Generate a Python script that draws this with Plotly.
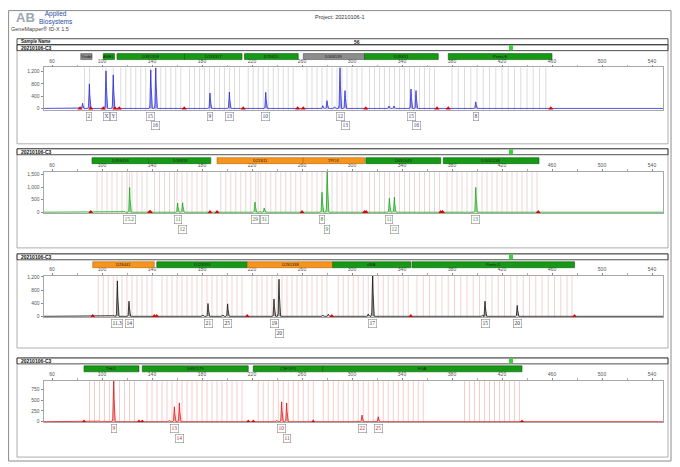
import plotly.graph_objects as go

W, H = 680, 467

project = "Project: 20210106-1"
software = "GeneMapper® ID-X 1.5"
sample = "20210106-C3"
sample_no = "56"

# y tick values (RFU) per dye panel
blue_rfu_ticks = [0, 400, 800, 1200]
green_rfu_ticks = [0, 500, 1000, 1500]
black_rfu_ticks = [0, 400, 800, 1200]
red_rfu_ticks = [0, 250, 500, 750]

# ---- blue dye ----
blue_locus = ["Yindel", "AMEL", "D3S1358", "D13S317", "D7S820", "D16S539", "D18S51", "Penta E"]
blue_locus_start = [83, 101, 112, 166, 214, 261, 310, 377]
blue_locus_end = [92, 110, 166, 212, 257, 310, 369, 460]
blue_locus_flag = ["none", "pass", "pass", "pass", "pass", "none", "pass", "pass"]
blue_peak_bp = [84.5, 89.9, 103.2, 109.0, 139.0, 143.0, 186.4, 201.9, 231.0, 276.6,
                280.0, 286.0, 290.4, 294.4, 329.6, 333.6, 347.2, 351.2, 399.0]
blue_peak_rfu = [170, 800, 1220, 1090, 1250, 1320, 500, 535, 525, 90,
                 250, 50, 1330, 580, 80, 80, 630, 580, 215]
blue_allele_bp = [89.9, 103.2, 109.0, 139.0, 143.0, 186.4, 201.9, 231.0, 290.4, 294.4, 347.2, 351.2, 399.0]
blue_allele = ["2", "X", "Y", "15", "16", "9", "13", "10", "12", "13", "15", "16", "8"]
blue_flag_bp = [82.4, 91, 101, 110.4, 113.8, 165.8, 213, 256.5, 261, 311, 368, 377, 459]
blue_bins = [86, 90, 103, 109,
             115, 119, 123, 127, 131, 135, 139, 143, 147, 151, 155, 159, 163,
             170, 174, 178, 182, 186, 190, 194, 198, 202, 206, 210,
             217, 221, 225, 229, 233, 237, 241, 245, 249, 253,
             264, 268, 272, 276, 280, 284, 288, 292, 296, 300, 304, 308,
             314, 318, 322, 326, 330, 334, 338, 342, 346, 350, 354, 358, 362, 366,
             380, 385, 390, 395, 400, 405, 410, 415, 420, 425, 430, 435, 440, 445, 450, 455]

# ---- green dye ----
green_locus = ["D19S433", "D5S818", "D21S11", "TPOX", "D6S1043", "D10S1248"]
green_locus_start = [92, 138, 192, 261, 311, 373]
green_locus_end = [137.6, 187, 261, 310, 371, 449.6]
green_locus_flag = ["pass", "pass", "check", "check", "pass", "pass"]
green_peak_bp = [117.6, 122.1, 160.5, 164.5, 222.4, 226.5, 229.8, 276.0, 280.2, 290.4,
                 329.9, 333.9, 352.8, 399.0]
green_peak_rfu = [40, 990, 365, 380, 405, 30, 170, 795, 1700, 20,
                  560, 600, 20, 990]
green_allele_bp = [122.1, 160.5, 164.5, 222.4, 229.8, 276.0, 280.2, 329.9, 333.9, 399.0]
green_allele = ["15.2", "11", "12", "29", "31", "8", "9", "11", "12", "13"]
green_flag_bp = [91, 138, 138.8, 186.4, 192, 260, 310, 311.3, 371, 372.5, 449]
green_bins = [96, 100, 104, 108, 112, 116, 120, 122, 124, 128, 132, 136,
              142, 146, 150, 154, 158, 160, 164, 168, 172, 176, 180, 184,
              195, 199, 203, 207, 211, 215, 219, 223, 225, 227, 231, 235, 239, 243, 247, 251, 255, 259,
              264, 268, 272, 276, 280, 284, 288, 292, 296, 300, 304, 308,
              314, 318, 322, 326, 330, 334, 338, 342, 346, 350, 354, 358, 362, 366, 370,
              376, 380, 384, 388, 392, 396, 400, 404, 408, 412, 416, 420, 424, 428, 432, 436, 440, 444, 448]

# ---- yellow (shown black) dye ----
black_locus = ["D2S441", "D12S391", "D2S1338", "vWA", "Penta D"]
black_locus_start = [92.6, 143.8, 216.2, 284.6, 348]
black_locus_end = [141.8, 216.2, 284.6, 347, 478]
black_locus_flag = ["check", "pass", "check", "pass", "pass"]
black_peak_bp = [109.0, 112.3, 121.6, 180.6, 184.8, 196.6, 200.5, 237.6, 241.6, 276.6,
                 281.0, 313.0, 316.5, 404.5, 406.4, 432.2]
black_peak_rfu = [30, 1080, 460, 40, 390, 40, 380, 530, 1130, 30,
                  60, 70, 1300, 30, 460, 330]
black_allele_bp = [112.3, 121.6, 184.8, 200.5, 237.6, 241.6, 316.5, 406.4, 432.2]
black_allele = ["11.3", "14", "21", "25", "19", "20", "17", "15", "20"]
black_flag_bp = [92.6, 141.8, 143.8, 216.2, 283.8, 347, 478]
black_bins = [97, 101, 105, 109, 112, 116, 120, 124, 128, 132, 136, 140,
              148, 152, 156, 160, 164, 168, 172, 176, 180, 184, 188, 192, 196, 200, 204, 208, 212,
              220, 224, 228, 232, 236, 240, 244, 248, 252, 256, 260, 264, 268, 272, 276, 280,
              289, 293, 297, 301, 305, 309, 313, 317, 321, 325, 329, 333, 337, 341, 345,
              352, 357, 362, 367, 372, 377, 382, 387, 392, 397, 402, 407, 412, 417, 422,
              427, 432, 437, 442, 447, 452, 457, 462, 467, 472, 476]

# ---- red dye ----
red_locus = ["TH01", "D8S1179", "CSF1PO", "FGA"]
red_locus_start = [85.6, 132.2, 221, 276.5]
red_locus_end = [129.6, 217, 276.5, 436]
red_locus_flag = ["pass", "pass", "pass", "pass"]
red_peak_bp = [97.0, 101.6, 109.3, 153.9, 157.9, 161.9, 239.7, 243.7, 247.7, 304.0, 308.0, 317.0, 321.0]
red_peak_rfu = [20, 20, 940, 30, 345, 435, 30, 460, 435, 20, 153, 20, 115]
red_allele_bp = [109.3, 157.9, 161.9, 243.7, 247.7, 308.0, 321.0]
red_allele = ["9", "13", "14", "10", "11", "22", "25"]
red_flag_bp = [85.6, 129.6, 132.2, 217, 221, 269, 436]
red_bins = [90, 94, 98, 102, 106, 110, 114, 118, 122, 126,
            136, 140, 144, 148, 152, 156, 160, 164, 168, 172, 176, 180, 184, 188, 192, 196, 200, 204, 208, 212,
            225, 229, 233, 237, 241, 245, 249, 253, 257, 261, 265, 269,
            277, 281, 285, 289, 293, 297, 301, 305, 309, 313, 317, 321, 325, 329, 333, 337, 341, 345,
            349, 353, 357,
            390, 394, 398, 402, 406, 410, 414, 418, 422, 426, 430, 434]

# ---------------- layout / style ----------------
# the page body adds an 8px margin, so the figure is drawn 8px smaller and offset
OFF = 8
FW, FH = W - OFF - 2, H - OFF - 2


def fx(x):
    return (x - OFF) / FW


def fy(y):
    return 1 - (y - OFF) / FH


FLAG_FILL = {"pass": "#169a16", "check": "#f7941d", "none": "#8c8c8c"}
FLAG_LINE = {"pass": "#0a5a0a", "check": "#b56400", "none": "#555555"}

# (title_top, bar_top, plot_top, plot_bot, panel_bot) in pixels
panel_px = [(43, 52, 66, 109, 143), (148, 157, 171, 213, 248),
            (254, 262, 276, 318, 349), (359, 367, 382, 424, 459)]
y_ranges = [[-55, 1330], [-40, 1620], [-30, 1240], [-16, 950]]
x_range = [53.2, 548.8]

panels = [
    dict(loc=blue_locus, s=blue_locus_start, e=blue_locus_end, flag=blue_locus_flag,
         pbp=blue_peak_bp, prfu=blue_peak_rfu, abp=blue_allele_bp, al=blue_allele,
         fbp=blue_flag_bp, bins=blue_bins, ticks=blue_rfu_ticks,
         line="#2b2bd6", fill="rgba(130,130,235,0.75)", txt="#3a3a9a", bin="#cdcdcd"),
    dict(loc=green_locus, s=green_locus_start, e=green_locus_end, flag=green_locus_flag,
         pbp=green_peak_bp, prfu=green_peak_rfu, abp=green_allele_bp, al=green_allele,
         fbp=green_flag_bp, bins=green_bins, ticks=green_rfu_ticks,
         line="#1aa81a", fill="rgba(120,210,120,0.75)", txt="#3f7f3f", bin="#e2c6c6"),
    dict(loc=black_locus, s=black_locus_start, e=black_locus_end, flag=black_locus_flag,
         pbp=black_peak_bp, prfu=black_peak_rfu, abp=black_allele_bp, al=black_allele,
         fbp=black_flag_bp, bins=black_bins, ticks=black_rfu_ticks,
         line="#141414", fill="rgba(130,130,130,0.75)", txt="#333333", bin="#ecc0c0"),
    dict(loc=red_locus, s=red_locus_start, e=red_locus_end, flag=red_locus_flag,
         pbp=red_peak_bp, prfu=red_peak_rfu, abp=red_allele_bp, al=red_allele,
         fbp=red_flag_bp, bins=red_bins, ticks=red_rfu_ticks,
         line="#e01818", fill="rgba(240,140,140,0.75)", txt="#b83030", bin="#f0b8b8"),
]

# peak profile (offset in bp, fraction of height)
prof_dx = [-1.3, -0.7, -0.35, 0, 0.35, 0.7, 1.3]
prof_fy = [0, 0.08, 0.55, 1, 0.55, 0.08, 0]

fig = go.Figure()
shapes = []
ann = []

# page border and header
shapes.append(dict(type="rect", xref="paper", yref="paper", x0=fx(8.6), x1=fx(671), y0=fy(463), y1=fy(8.6),
                   line=dict(color="#8c8c8c", width=1)))
ann.append(dict(text="<b>AB</b>", x=fx(14), y=fy(16), xanchor="left", font=dict(size=13, color="#9aa6b2",
                family="Liberation Sans")))
ann.append(dict(text="Applied<br>Biosystems", x=fx(37), y=fy(16.5), xanchor="left",
                font=dict(size=6.5, color="#1f4e9c", family="Liberation Sans")))
ann.append(dict(text=software, x=fx(9), y=fy(27.5), xanchor="left",
                font=dict(size=5.5, color="#444", family="Liberation Sans")))
ann.append(dict(text=project, x=fx(340), y=fy(15), font=dict(size=5.5, color="#333", family="Liberation Sans")))
shapes.append(dict(type="rect", xref="paper", yref="paper", x0=fx(17), x1=fx(668), y0=fy(43), y1=fy(37),
                   line=dict(color="#222", width=0.8)))
ann.append(dict(text="<b>Sample Name</b>", x=fx(19), y=fy(40), xanchor="left",
                font=dict(size=4.5, color="#222", family="Liberation Sans")))
ann.append(dict(text="<b>" + sample_no + "</b>", x=fx(357), y=fy(40),
                font=dict(size=5, color="#222", family="Liberation Sans")))

for i, p in enumerate(panels):
    n = "" if i == 0 else str(i + 1)
    xa, ya = "x" + n, "y" + n
    t, bt, pt, pb, pbot = panel_px[i]

    # frames
    shapes.append(dict(type="rect", xref="paper", yref="paper", x0=fx(17), x1=fx(668), y0=fy(pbot), y1=fy(t),
                       line=dict(color="#9a9a9a", width=0.8)))
    shapes.append(dict(type="rect", xref="paper", yref="paper", x0=fx(17), x1=fx(668), y0=fy(t + 6), y1=fy(t),
                       line=dict(color="#222", width=0.8)))
    shapes.append(dict(type="rect", xref="paper", yref="paper", x0=fx(509), x1=fx(513), y0=fy(t + 5.5),
                       y1=fy(t + 0.5), fillcolor="#3ad13a", line=dict(width=0)))
    ann.append(dict(text="<b>" + sample + "</b>", x=fx(19), y=fy(t + 3), xanchor="left",
                    font=dict(size=5, color="#111", family="Liberation Sans")))

    # locus bars
    for name, s, e, f in zip(p["loc"], p["s"], p["e"], p["flag"]):
        shapes.append(dict(type="rect", xref=xa, yref="paper", x0=s, x1=e, y0=fy(bt + 6), y1=fy(bt),
                           fillcolor=FLAG_FILL[f], line=dict(color=FLAG_LINE[f], width=0.6)))
        ann.append(dict(text=name, x=(s + e) / 2, xref=xa, y=fy(bt + 3), yref="paper",
                        font=dict(size=4, color="#1a1a1a", family="Liberation Sans")))

    # bins
    for b in p["bins"]:
        shapes.append(dict(type="line", xref=xa, yref=ya + " domain", x0=b, x1=b, y0=0, y1=1,
                           line=dict(color=p["bin"], width=0.7), layer="below"))

    # electropherogram trace
    xs, ys = [x_range[0]], [0]
    for bp, h in sorted(zip(p["pbp"], p["prfu"])):
        for dx, fr in zip(prof_dx, prof_fy):
            xs.append(bp + dx)
            ys.append(h * fr)
    xs.append(x_range[1])
    ys.append(0)
    fig.add_trace(go.Scatter(x=xs, y=ys, xaxis=xa, yaxis=ya, mode="lines", fill="tozeroy",
                             fillcolor=p["fill"], line=dict(color=p["line"], width=0.8),
                             hoverinfo="skip", showlegend=False))
    fig.add_trace(go.Scatter(x=p["fbp"], y=[0] * len(p["fbp"]), xaxis=xa, yaxis=ya, mode="markers",
                             marker=dict(symbol="triangle-up", size=4.5, color="#e00000"),
                             cliponaxis=False, hoverinfo="skip", showlegend=False))

    # allele call boxes
    row_prev = 1
    for k, (bp, lab) in enumerate(zip(p["abp"], p["al"])):
        row = 1 if (k > 0 and bp - p["abp"][k - 1] < 5 and row_prev == 0) else 0
        row_prev = row
        ann.append(dict(text=lab, x=bp, xref=xa, y=fy(pb + 6.5 + row * 9.5), yref="paper",
                        font=dict(size=5.5, color=p["txt"], family="Liberation Serif"),
                        bordercolor="#8a8a8a", borderwidth=0.6, borderpad=0.8, bgcolor="white"))

    fig.update_layout({
        "xaxis" + n: dict(domain=[fx(43.5), fx(663)], range=x_range, anchor=ya, side="top",
                          tickmode="linear", tick0=60, dtick=40, ticks="outside", ticklen=2,
                          tickwidth=0.6, tickcolor="#888",
                          minor=dict(ticks="outside", ticklen=1.5, tick0=0, dtick=20, tickcolor="#aaa"),
                          tickfont=dict(size=5, color="#555", family="Liberation Sans"),
                          showline=True, mirror=True, linecolor="#a8a8a8", linewidth=0.7,
                          showgrid=False, zeroline=False),
        "yaxis" + n: dict(domain=[fy(pb), fy(pt)], range=y_ranges[i], anchor=xa,
                          tickmode="array", tickvals=p["ticks"], tickformat=",",
                          ticks="outside", ticklen=2, tickwidth=0.6, tickcolor="#888",
                          tickfont=dict(size=5, color="#555", family="Liberation Sans"),
                          showline=True, mirror=True, linecolor="#a8a8a8", linewidth=0.7,
                          showgrid=False, zeroline=False),
    })

for a in ann:
    a.setdefault("xref", "paper")
    a.setdefault("yref", "paper")
    a.setdefault("xanchor", "center")
    a.setdefault("yanchor", "middle")
    a.setdefault("showarrow", False)

fig.update_layout(width=FW, height=FH, margin=dict(l=0, r=0, t=0, b=0),
                  paper_bgcolor="white", plot_bgcolor="white",
                  shapes=shapes, annotations=ann, showlegend=False)

fig.write_html("out.html")
